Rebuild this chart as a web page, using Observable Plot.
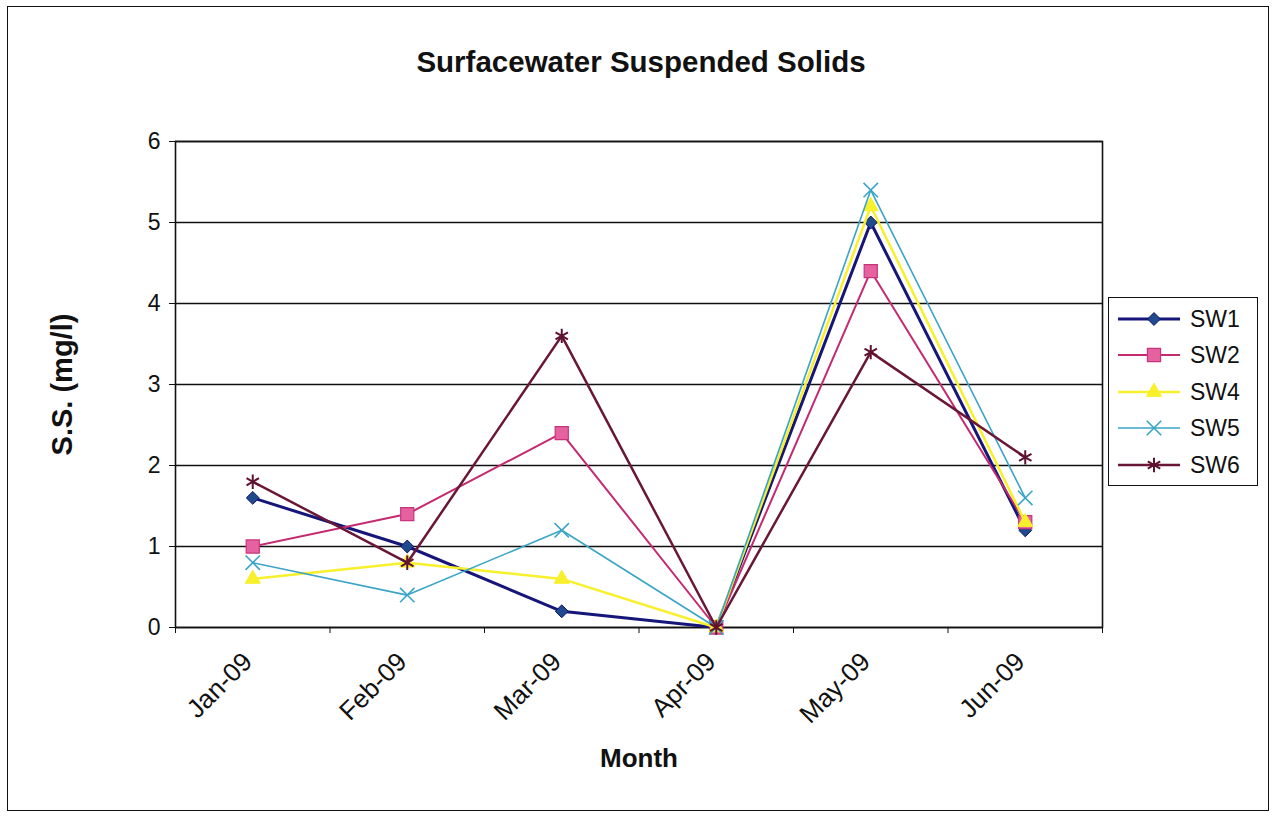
<!DOCTYPE html>
<html>
<head>
<meta charset="utf-8">
<script src="https://cdn.jsdelivr.net/npm/d3@7"></script>
<script src="https://cdn.jsdelivr.net/npm/@observablehq/plot@0.6"></script>
<style>
  html, body { margin: 0; padding: 0; background: #fff; }
  #chart { position: relative; width: 1273px; height: 816px; font-family: Arial, "Liberation Sans", sans-serif; overflow: hidden; }
  #border { position: absolute; left: 7px; top: 6px; width: 1262px; height: 805px; border: 1.5px solid #111; box-sizing: border-box; }
  #title { position: absolute; left: 0; width: 1282px; top: 45px; text-align: center; font-weight: bold; font-size: 29.5px; color: #111; }
  #plot { position: absolute; left: 0; top: 0; }
  #legend { position: absolute; left: 1108px; top: 297px; width: 150px; height: 189px; border: 1.5px solid #111; box-sizing: border-box; background: #fff; }
  .row { position: absolute; left: 0; height: 30px; width: 100%; }
  .row svg { position: absolute; left: 9px; top: 0; }
  .row span { position: absolute; left: 81px; top: 1px; font-size: 23px; line-height: 28px; color: #111; }
</style>
</head>
<body>
<div id="chart">
  <div id="border"></div>
  <div id="title">Surfacewater Suspended Solids</div>
  <div id="plot"></div>
  <div id="legend"></div>
</div>
<script>
// Monthly suspended solids readings (mg/l) per surface-water station
const months = ["Jan-09", "Feb-09", "Mar-09", "Apr-09", "May-09", "Jun-09"];
const stations = ["SW1", "SW2", "SW4", "SW5", "SW6"];
const sw1 = [1.6, 1.0, 0.2, 0, 5.0, 1.2];
const sw2 = [1.0, 1.4, 2.4, 0, 4.4, 1.3];
const sw4 = [0.6, 0.8, 0.6, 0, 5.2, 1.3];
const sw5 = [0.8, 0.4, 1.2, 0, 5.4, 1.6];
const sw6 = [1.8, 0.8, 3.6, 0, 3.4, 2.1];
const yTicks = [0, 1, 2, 3, 4, 5, 6];

// per-station look: line colour/width and marker shape
const styles = {
  SW1: {line: "#16167a", width: 3,   symbol: "diamond2", r: 5.8, fill: "#1f4a8c", stroke: "#12126e", sw: 1},
  SW2: {line: "#c42a70", width: 2,   symbol: "square",   r: 7.4, fill: "#e6619f", stroke: "#c8347c", sw: 1.2},
  SW4: {line: "#f7f02a", width: 2.5, symbol: "triangle", r: 5.6, fill: "#f7f02a", stroke: "#f7f02a", sw: 1},
  SW5: {line: "#3aa5c6", width: 1.6, symbol: "times",    r: 6.6, fill: "none",    stroke: "#3aa5c6", sw: 1.6},
  SW6: {line: "#6a1636", width: 2.5, symbol: "asterisk", r: 6.8, fill: "none",    stroke: "#5e1230", sw: 2}
};

const values = {SW1: sw1, SW2: sw2, SW4: sw4, SW5: sw5, SW6: sw6};
const rows = stations.flatMap(s => values[s].map((v, i) => ({station: s, i, month: months[i], value: v})));

const seriesMarks = stations.flatMap(s => {
  const st = styles[s];
  const d = rows.filter(r => r.station === s);
  return [
    Plot.line(d, {x: "i", y: "value", stroke: st.line, strokeWidth: st.width, strokeLinejoin: "round"}),
    Plot.dot(d, {x: "i", y: "value", symbol: () => st.symbol, r: st.r, fill: st.fill, stroke: st.stroke, strokeWidth: st.sw})
  ];
});

// category boundaries for the tick marks between months
const bounds = d3.range(months.length + 1).map(k => k - 0.5);

const chart = Plot.plot({
  width: 1273,
  height: 816,
  marginLeft: 175,
  marginRight: 171,
  marginTop: 141,
  marginBottom: 189,
  style: {fontFamily: 'Arial, "Liberation Sans", sans-serif', color: "#111", background: "transparent"},
  x: {type: "linear", domain: [-0.5, months.length - 0.5]},
  y: {domain: [0, 6]},
  symbol: {type: "identity"},
  marks: [
    Plot.gridY(yTicks, {stroke: "#111", strokeOpacity: 1, strokeWidth: 1.4}),
    Plot.frame({stroke: "#111", strokeWidth: 1.6}),
    Plot.axisY(yTicks, {tickSize: 6, tickPadding: 9, fontSize: 23, tickFormat: d => String(d), label: null, stroke: "#111"}),
    Plot.axisX(bounds, {tickSize: 6, tickFormat: () => "", label: null, stroke: "#111"}),
    Plot.axisX(d3.range(months.length), {tickSize: 0, tickPadding: 30, tickRotate: -45, fontSize: 26, dx: -5,
      tickFormat: i => months[i], label: null}),
    ...seriesMarks,
    Plot.text(["S.S. (mg/l)"], {frameAnchor: "left", textAnchor: "middle", dx: -113, rotate: -90, fontSize: 29, fontWeight: "bold", fill: "#111"}),
    Plot.text(["Month"], {frameAnchor: "bottom", dy: 139, fontSize: 26, fontWeight: "bold", fill: "#111"})
  ]
});
document.getElementById("plot").append(chart);

// legend: line sample with marker, then the station name
const legend = d3.select("#legend");
const symbolTypes = {diamond2: d3.symbolDiamond2, square: d3.symbolSquare, triangle: d3.symbolTriangle, times: d3.symbolTimes, asterisk: d3.symbolAsterisk};
stations.forEach((s, k) => {
  const st = styles[s];
  const row = legend.append("div").attr("class", "row").style("top", (6 + k * 36.4) + "px");
  const svg = row.append("svg").attr("width", 64).attr("height", 30);
  svg.append("line").attr("x1", 0).attr("x2", 62).attr("y1", 15).attr("y2", 15)
    .attr("stroke", st.line).attr("stroke-width", st.width);
  svg.append("path").attr("transform", "translate(36,15)")
    .attr("d", d3.symbol(symbolTypes[st.symbol], Math.PI * st.r * st.r)())
    .attr("fill", st.fill).attr("stroke", st.stroke).attr("stroke-width", st.sw);
  row.append("span").text(s);
});
</script>
</body>
</html>
